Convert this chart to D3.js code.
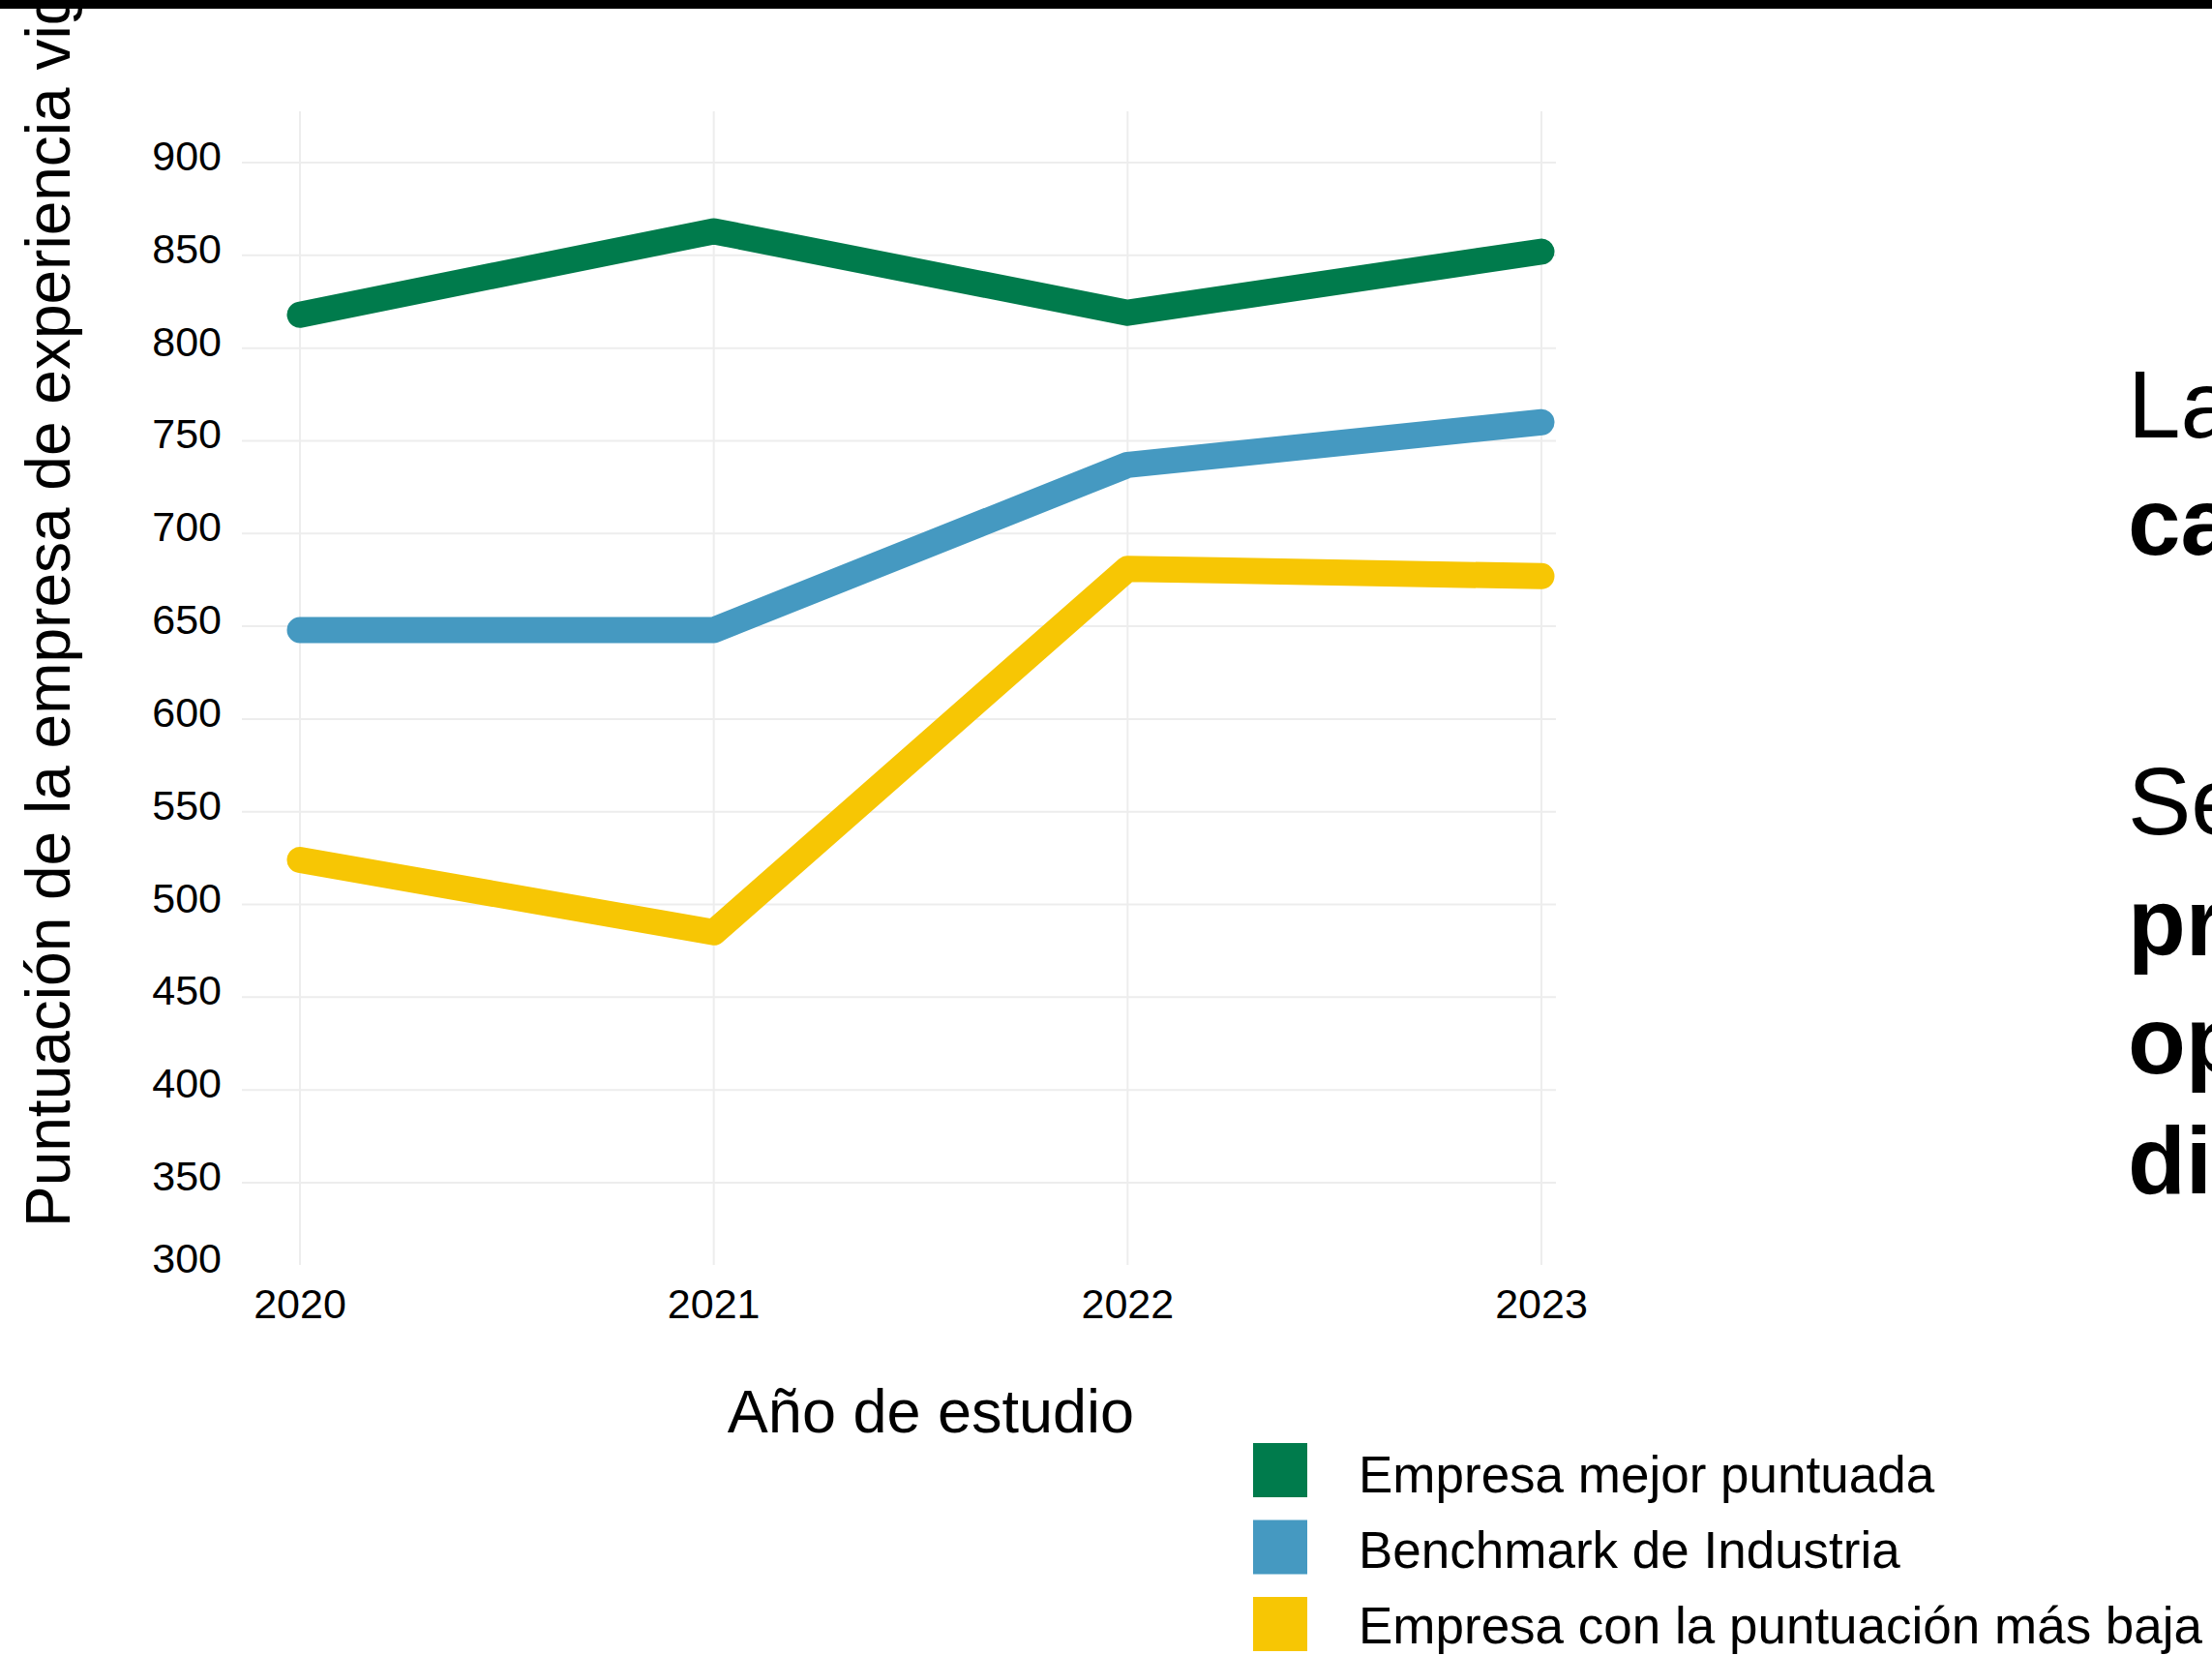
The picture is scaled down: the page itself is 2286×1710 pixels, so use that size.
<!DOCTYPE html>
<html>
<head>
<meta charset="utf-8">
<script src="https://cdn.jsdelivr.net/npm/d3@7"></script>
<style>
  html, body { margin: 0; padding: 0; background: #ffffff; }
  svg { display: block; }
  text { font-family: "Liberation Sans", Arial, Helvetica, sans-serif; fill: #000; }
</style>
</head>
<body>
<script>
// ---- Data ----
const years = [2020, 2021, 2022, 2023];
const seriesNames = ["Empresa mejor puntuada", "Benchmark de Industria", "Empresa con la puntuación más baja"];
const mejorValues = [818, 863, 819, 852];
const benchmarkValues = [648, 648, 737, 760];
const bajaValues = [524, 485, 681, 677];
const seriesColors = ["#007b4c", "#4599c1", "#f7c604"];
const yTicks = [300, 350, 400, 450, 500, 550, 600, 650, 700, 750, 800, 850, 900];
const xTickLabels = ["2020", "2021", "2022", "2023"];
const xTitle = "Año de estudio";
const yTitle = "Puntuación de la empresa de experiencia vig";
const sideLines = [
  { text: "La", bold: false },
  { text: "ca", bold: true },
  { text: "Se", bold: false },
  { text: "pr", bold: true },
  { text: "op", bold: true },
  { text: "di", bold: true }
];

const W = 2286, H = 1710;
const svg = d3.select("body").append("svg").attr("width", W).attr("height", H);

// ---- Scales ----
const panel = { left: 250, right: 1608, top: 115, bottom: 1307 };
const x = d3.scaleLinear().domain([2020, 2023]).range([310, 1593]);
const y = d3.scaleLinear().domain([900, 350]).range([168, 1222]);
const yLabel = y.copy().domain([y.invert(panel.top), y.invert(panel.bottom)]).range([panel.top, panel.bottom]).clamp(true);

// ---- Grid ----
const grid = svg.append("g");
grid.selectAll("line.h").data(yTicks.filter(v => v >= 350)).join("line")
  .attr("x1", panel.left).attr("x2", panel.right)
  .attr("y1", d => y(d)).attr("y2", d => y(d))
  .attr("stroke", "#ededed").attr("stroke-width", 2);
grid.selectAll("line.v").data(years).join("line")
  .attr("x1", d => x(d)).attr("x2", d => x(d))
  .attr("y1", panel.top).attr("y2", panel.bottom)
  .attr("stroke", "#ededed").attr("stroke-width", 2);

// ---- Axis labels ----
svg.append("g").selectAll("text").data(yTicks).join("text")
  .attr("x", 229).attr("y", d => yLabel(d) - 7)
  .attr("text-anchor", "end").attr("dominant-baseline", "central")
  .attr("font-size", 43).text(d => d);

svg.append("g").selectAll("text").data(years).join("text")
  .attr("x", d => x(d)).attr("y", 1362)
  .attr("text-anchor", "middle").attr("font-size", 43)
  .text((d, i) => xTickLabels[i]);

svg.append("text").attr("x", 962).attr("y", 1480)
  .attr("text-anchor", "middle").attr("font-size", 63).text(xTitle);

svg.append("text").attr("transform", "translate(72,1268) rotate(-90)")
  .attr("text-anchor", "start").attr("font-size", 64).text(yTitle);

// ---- Lines ----
const series = [mejorValues, benchmarkValues, bajaValues];
const line = d3.line().x((d, i) => x(years[i])).y(d => y(d));
svg.append("g").selectAll("path").data(series).join("path")
  .attr("d", d => line(d))
  .attr("fill", "none")
  .attr("stroke", (d, i) => seriesColors[i])
  .attr("stroke-width", 27)
  .attr("stroke-linecap", "round")
  .attr("stroke-linejoin", "round");

// top black band (drawn over, clips the y title like the reference)
svg.append("rect").attr("x", 0).attr("y", 0).attr("width", W).attr("height", 9).attr("fill", "#000");

// ---- Legend ----
const legend = svg.append("g");
seriesNames.forEach((name, i) => {
  legend.append("rect").attr("x", 1295).attr("y", 1491 + i * 79.5)
    .attr("width", 56).attr("height", 56).attr("fill", seriesColors[i]);
  legend.append("text").attr("x", 1404).attr("y", 1542 + i * 78)
    .attr("font-size", 53).text(name);
});

// ---- Side text (cut off at the right edge, as in the reference) ----
const sideY = [452, 573, 862, 987, 1109, 1233];
svg.append("g").selectAll("text").data(sideLines).join("text")
  .attr("x", 2199).attr("y", (d, i) => sideY[i])
  .attr("font-size", 98)
  .attr("font-weight", d => d.bold ? "bold" : "normal")
  .text(d => d.text);
</script>
</body>
</html>
